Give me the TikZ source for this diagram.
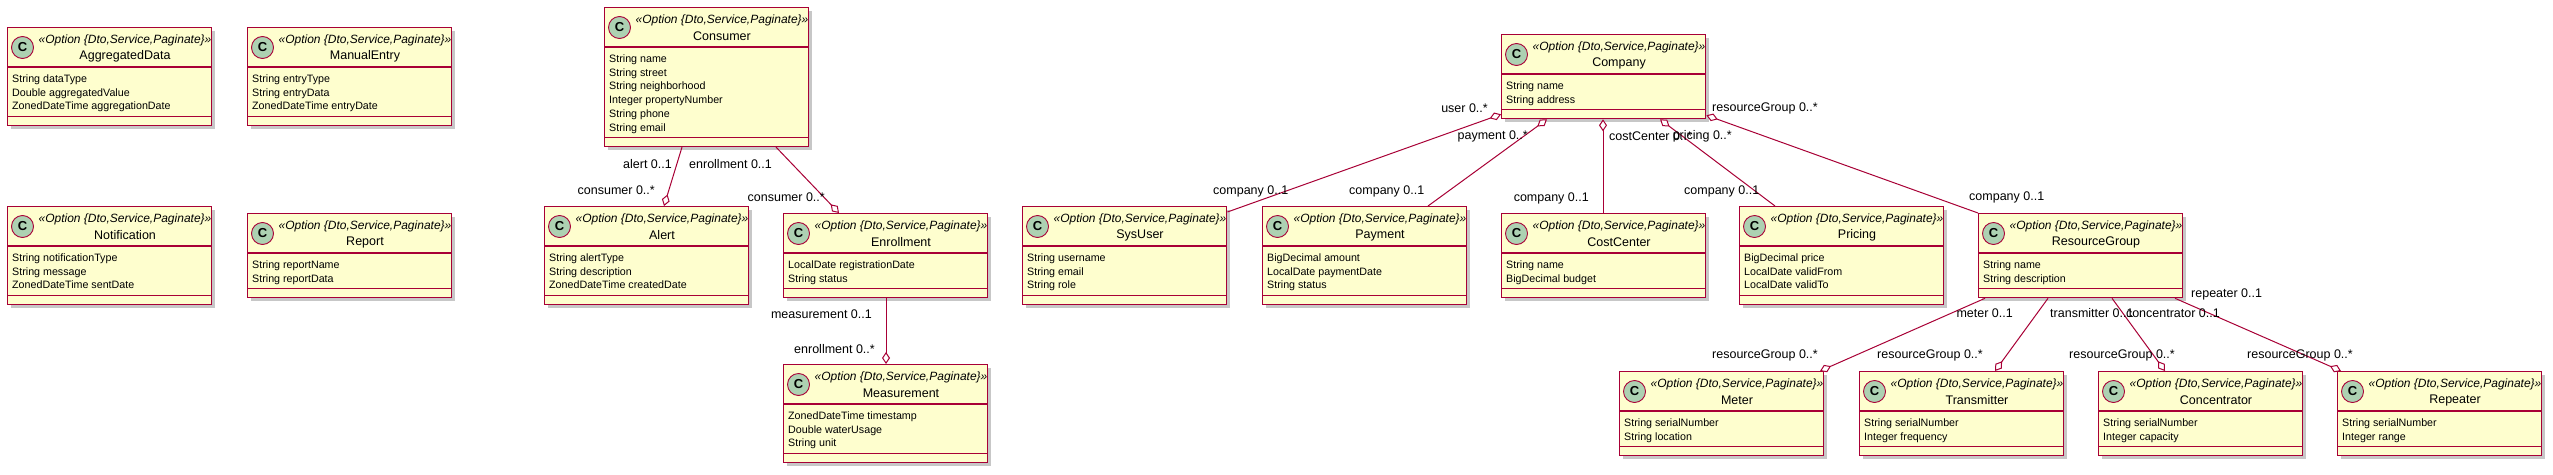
\documentclass[tikz,border=0pt]{standalone}
\usepackage{fontspec}
\setmainfont{Liberation Sans}
\usetikzlibrary{arrows.meta,calc}
\definecolor{umlborder}{HTML}{A80036}
\definecolor{umlfill}{HTML}{FEFECE}
\definecolor{umlspot}{HTML}{ADD1B2}
\tikzset{
  classbox/.style={rectangle, draw=umlborder, fill=umlfill, line width=1.4pt, minimum width=204pt, inner sep=0pt},
  sepline/.style={draw=umlborder, line width=1.2pt},
  shadowbox/.style={fill=black!22},
  spot/.style={circle, draw=umlborder, fill=umlspot, line width=0.9pt, minimum size=22pt, inner sep=0pt, font=\fontsize{13}{13}\selectfont\bfseries},
  stereo/.style={inner sep=0pt, font=\fontsize{12}{12}\selectfont\itshape},
  cname/.style={inner sep=0pt, font=\fontsize{12.5}{12.5}\selectfont},
  fieldtxt/.style={inner sep=0pt, anchor=base west, font=\fontsize{10.7}{12}\selectfont},
  assoc/.style={draw=umlborder, line width=1pt},
  agg/.style={assoc, {Diamond[open, fill=white, length=12pt, width=8pt, line width=1pt]}-},
  rolel/.style={inner sep=0pt, font=\fontsize{12.5}{12.5}\selectfont}
}
\newcommand{\umlclass}[6]{%
  \pgfmathsetmacro\fh{13.7*#4+8}%
  \pgfmathsetmacro\th{40+\fh+8.5}%
  \fill[shadowbox] (#2+4,#3+4) rectangle (#2+208,#3+\th+4);
  \node[classbox, minimum height=\th pt, anchor=north west] (#1) at (#2,#3) {};
  \draw[sepline] (#2,#3+40) -- (#2+204,#3+40);
  \draw[sepline] (#2,#3+40+\fh) -- (#2+204,#3+40+\fh);
  \node[spot] (#1-spot) at (#2+15.5,#3+20.5) {C};
  \node[stereo] (#1-st) at (#2+118,#3+13) {«Option \{Dto,Service,Paginate\}»};
  \node[cname] (#1-nm) at (#2+118,#3+29) {#5};
  \foreach \f [count=\i] in {#6} {
    \node[fieldtxt] (#1-f\i) at (#2+5,#3+40+15.5+\i*13.7-13.7) {\f};
  }
}
\begin{document}
\begin{tikzpicture}[x=1pt,y=-1pt]
\useasboundingbox (0,0) rectangle (2553,474);
\fill[white] (0,0) rectangle (2553,474);

\umlclass{aggdata}{7}{27}{3}{AggregatedData}{String dataType,Double aggregatedValue,ZonedDateTime aggregationDate}
\umlclass{manual}{247}{27}{3}{ManualEntry}{String entryType,String entryData,ZonedDateTime entryDate}
\umlclass{notif}{7}{206}{3}{Notification}{String notificationType,String message,ZonedDateTime sentDate}
\umlclass{report}{247}{213}{2}{Report}{String reportName,String reportData}
\umlclass{consumer}{604}{7}{6}{Consumer}{String name,String street,String neighborhood,Integer propertyNumber,String phone,String email}
\umlclass{alert}{544}{206}{3}{Alert}{String alertType,String description,ZonedDateTime createdDate}
\umlclass{enroll}{783}{213}{2}{Enrollment}{LocalDate registrationDate,String status}
\umlclass{measure}{783}{364}{3}{Measurement}{ZonedDateTime timestamp,Double waterUsage,String unit}
\umlclass{company}{1501}{34}{2}{Company}{String name,String address}
\umlclass{sysuser}{1022}{206}{3}{SysUser}{String username,String email,String role}
\umlclass{payment}{1262}{206}{3}{Payment}{BigDecimal amount,LocalDate paymentDate,String status}
\umlclass{costcenter}{1501}{213}{2}{CostCenter}{String name,BigDecimal budget}
\umlclass{pricing}{1739}{206}{3}{Pricing}{BigDecimal price,LocalDate validFrom,LocalDate validTo}
\umlclass{rgroup}{1978}{213}{2}{ResourceGroup}{String name,String description}
\umlclass{meter}{1619}{371}{2}{Meter}{String serialNumber,String location}
\umlclass{transmitter}{1859}{371}{2}{Transmitter}{String serialNumber,Integer frequency}
\umlclass{concentrator}{2098}{371}{2}{Concentrator}{String serialNumber,Integer capacity}
\umlclass{repeater}{2337}{371}{2}{Repeater}{String serialNumber,Integer range}

% connectors
\draw[agg] ([xshift=120pt]alert.north west) -- ([xshift=78pt]consumer.south west);
\draw[agg] ([xshift=56pt]enroll.north west) -- ([xshift=172pt]consumer.south west);
\draw[agg] ([xshift=103pt]measure.north west) -- ([xshift=103pt]enroll.south west);
\draw[agg] ([yshift=5pt]company.south west) -- ([yshift=-6pt]sysuser.north east);
\draw[agg] ([xshift=46pt]company.south west) -- ([xshift=166pt]payment.north west);
\draw[agg] ([xshift=102pt]company.south west) -- ([xshift=102pt]costcenter.north west);
\draw[agg] ([xshift=159pt]company.south west) -- ([xshift=36pt]pricing.north west);
\draw[agg] ([yshift=4pt]company.south east) -- (rgroup.north west);
\draw[agg] ([xshift=201pt]meter.north west) -- ([xshift=7pt]rgroup.south west);
\draw[agg] ([xshift=136pt]transmitter.north west) -- ([xshift=70pt]rgroup.south west);
\draw[agg] ([xshift=67pt]concentrator.north west) -- ([xshift=134pt]rgroup.south west);
\draw[agg] ([xshift=4pt]repeater.north west) -- ([xshift=197pt]rgroup.south west);

% role labels
\node[rolel, anchor=east] (l1) at (672,164) {alert 0..1};
\node[rolel, anchor=east] (l2) at (655,190) {consumer 0..*};
\node[rolel, anchor=west] (l3) at (689,164) {enrollment 0..1};
\node[rolel, anchor=east] (l4) at (825,197) {consumer 0..*};
\node[rolel, anchor=east] (l5) at (872,314) {measurement 0..1};
\node[rolel, anchor=east] (l6) at (875,349) {enrollment 0..*};
\node[rolel, anchor=east] (l7) at (1488,108) {user 0..*};
\node[rolel, anchor=west] (l8) at (1213,191) {company 0..1};
\node[rolel, anchor=east] (l9) at (1528,136) {payment 0..*};
\node[rolel, anchor=west] (l10) at (1349,191) {company 0..1};
\node[rolel, anchor=west] (l11) at (1609,136) {costCenter 0..*};
\node[rolel, anchor=east] (l12) at (1589,198) {company 0..1};
\node[rolel, anchor=east] (l13) at (1732,136) {pricing 0..*};
\node[rolel, anchor=west] (l14) at (1684,191) {company 0..1};
\node[rolel, anchor=west] (l15) at (1712,108) {resourceGroup 0..*};
\node[rolel, anchor=west] (l16) at (1969,197) {company 0..1};
\node[rolel, anchor=east] (l17) at (2013,313) {meter 0..1};
\node[rolel, anchor=east] (l18) at (1818,355) {resourceGroup 0..*};
\node[rolel, anchor=west] (l19) at (2050,313) {transmitter 0..1};
\node[rolel, anchor=east] (l20) at (1983,355) {resourceGroup 0..*};
\node[rolel, anchor=east] (l21) at (2220,313) {concentrator 0..1};
\node[rolel, anchor=east] (l22) at (2175,355) {resourceGroup 0..*};
\node[rolel, anchor=west] (l23) at (2191,294) {repeater 0..1};
\node[rolel, anchor=east] (l24) at (2353,355) {resourceGroup 0..*};
\end{tikzpicture}
\end{document}
